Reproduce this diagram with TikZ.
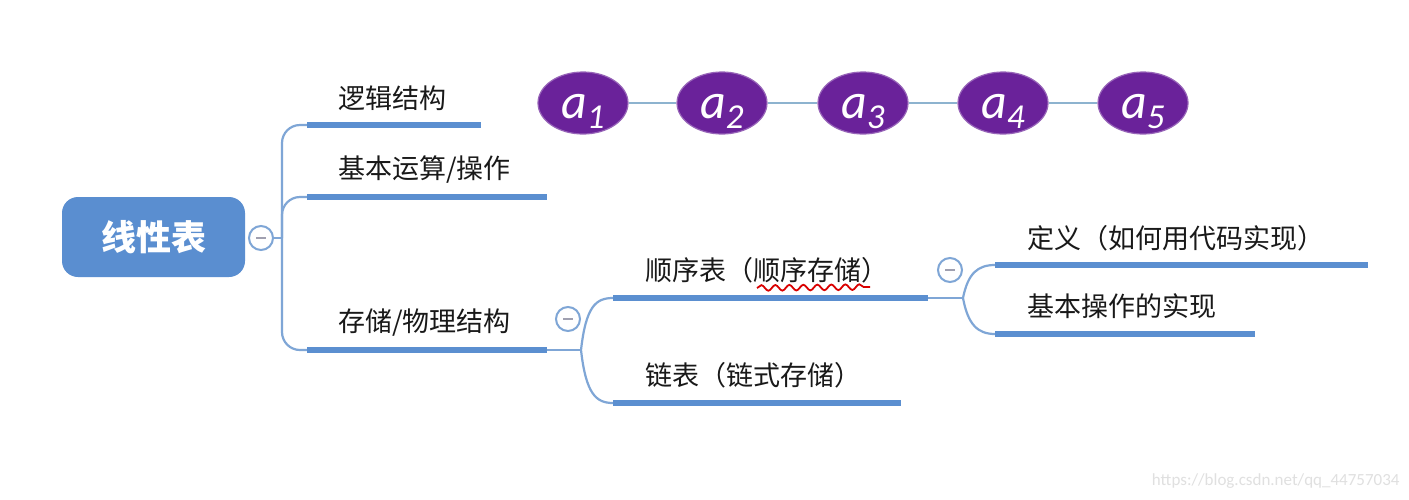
\documentclass[tikz,border=0pt]{standalone}
\usepackage{fontspec}
\setmainfont{Noto Sans CJK SC}
\newfontfamily\calfont{Carlito}
\usetikzlibrary{shapes.geometric,decorations.pathmorphing}
\definecolor{barblue}{HTML}{5B8FD0}
\definecolor{lineblue}{HTML}{7FA6D6}
\definecolor{rootblue}{HTML}{5A8ED0}
\definecolor{nodepurple}{HTML}{6A229A}
\definecolor{linkblue}{HTML}{8DB3CF}
\definecolor{minusgray}{HTML}{A0A0B0}
\tikzset{
  bar/.style={line width=3pt, draw=barblue},
  thin/.style={line width=1.1pt, draw=lineblue},
  lbl/.style={anchor=west, inner sep=0pt, font=\fontsize{13.5}{15}\selectfont, text=black!90},
  fold/.style={circle, draw=lineblue, line width=1pt, fill=white, minimum size=12pt, inner sep=0pt},
  elem/.style={ellipse, fill=nodepurple, draw=nodepurple!70!white, line width=0.6pt, minimum width=45pt, minimum height=31pt, inner sep=0pt, text=white, text height=17pt, text depth=2pt},
}
\newcommand{\elab}[1]{{\calfont\itshape\fontsize{25}{25}\selectfont a\raisebox{-0.2em}{\fontsize{17.5}{17.5}\selectfont #1}}}
\newcommand{\foldminus}[1]{\draw[minusgray, line width=1pt] ([xshift=-2.5pt]#1.center) -- ([xshift=2.5pt]#1.center);}
\begin{document}
\begin{tikzpicture}[x=0.5pt, y=-0.5pt]
\useasboundingbox (0,0) rectangle (1409,499);
\fill[white] (0,0) rectangle (1409,499);
% root
\node[fill=rootblue, rounded corners=8pt, minimum width=91.5pt, minimum height=40pt, inner sep=0pt,
      text=white, font=\fontsize{17.5}{18}\selectfont\bfseries] (root) at (153.5,237) {线性表};
\node[fold] (f0) at (261,238) {};
\foldminus{f0}
% bars
\coordinate (b1s) at (307,125); \coordinate (b1e) at (481,125);
\coordinate (b2s) at (307,197); \coordinate (b2e) at (547,197);
\coordinate (b3s) at (307,350); \coordinate (b3e) at (547,350);
\coordinate (t0) at (282,238);
\draw[thin] (f0.east) -- (t0);
\draw[thin, rounded corners=9pt] (b1s) -| (t0) |- (b3s);
\draw[thin, rounded corners=9pt] (t0) |- (b2s);
\draw[bar] (b1s) -- (b1e);
\draw[bar] (b2s) -- (b2e);
\draw[bar] (b3s) -- (b3e);
\node[lbl] (l1) at (338,98) {逻辑结构};
\node[lbl] (l2) at (338,170) {基本运算/操作};
\node[lbl] (l3) at (338,323) {存储/物理结构};
% elements
\node[elem] (a1) at (583,103) {\elab{1}};
\node[elem] (a2) at (722,103) {\elab{2}};
\node[elem] (a3) at (863,103) {\elab{3}};
\node[elem] (a4) at (1003,103) {\elab{4}};
\node[elem] (a5) at (1143,103) {\elab{5}};
\draw[linkblue, line width=1.2pt] (a1) -- (a2);
\draw[linkblue, line width=1.2pt] (a2) -- (a3);
\draw[linkblue, line width=1.2pt] (a3) -- (a4);
\draw[linkblue, line width=1.2pt] (a4) -- (a5);
% storage subtree
\node[fold] (f1) at (568,319) {};
\foldminus{f1}
\coordinate (j1) at (581,350);
\coordinate (b4s) at (613,298); \coordinate (b4e) at (928,298);
\coordinate (b5s) at (613,403); \coordinate (b5e) at (901,403);
\draw[thin] (b3e) -- (j1);
\draw[thin] (j1) .. controls (586,306) and (596,298) .. (b4s);
\draw[thin] (j1) .. controls (586,394) and (596,403) .. (b5s);
\draw[bar] (b4s) -- (b4e);
\draw[bar] (b5s) -- (b5e);
\node[lbl] (l4) at (645,270) {顺序表（顺序存储）};
\node[lbl] (l5) at (645,375) {链表（链式存储）};
\coordinate (w1) at (757,288); \coordinate (w2) at (870,287);
\draw[red!85!black, line width=0.9pt, decorate, decoration={snake, amplitude=1.4pt, segment length=7pt}] (w1) -- (w2);
% sequential subtree
\node[fold] (f2) at (950,270) {};
\foldminus{f2}
\coordinate (j2) at (963,298);
\coordinate (b6s) at (995,265); \coordinate (b6e) at (1368,265);
\coordinate (b7s) at (995,334); \coordinate (b7e) at (1255,334);
\draw[thin] (b4e) -- (j2);
\draw[thin] (j2) .. controls (968,273) and (978,265) .. (b6s);
\draw[thin] (j2) .. controls (968,325) and (978,334) .. (b7s);
\draw[bar] (b6s) -- (b6e);
\draw[bar] (b7s) -- (b7e);
\node[lbl] (l6) at (1027,238) {定义（如何用代码实现）};
\node[lbl] (l7) at (1027,306) {基本操作的实现};
% watermark
\node[anchor=east, inner sep=0pt, text=black!12, font=\fontsize{8.5}{9}\selectfont] (wm) at (1400,481) {\calfont https://blog.csdn.net/qq\_44757034};
\end{tikzpicture}
\end{document}
